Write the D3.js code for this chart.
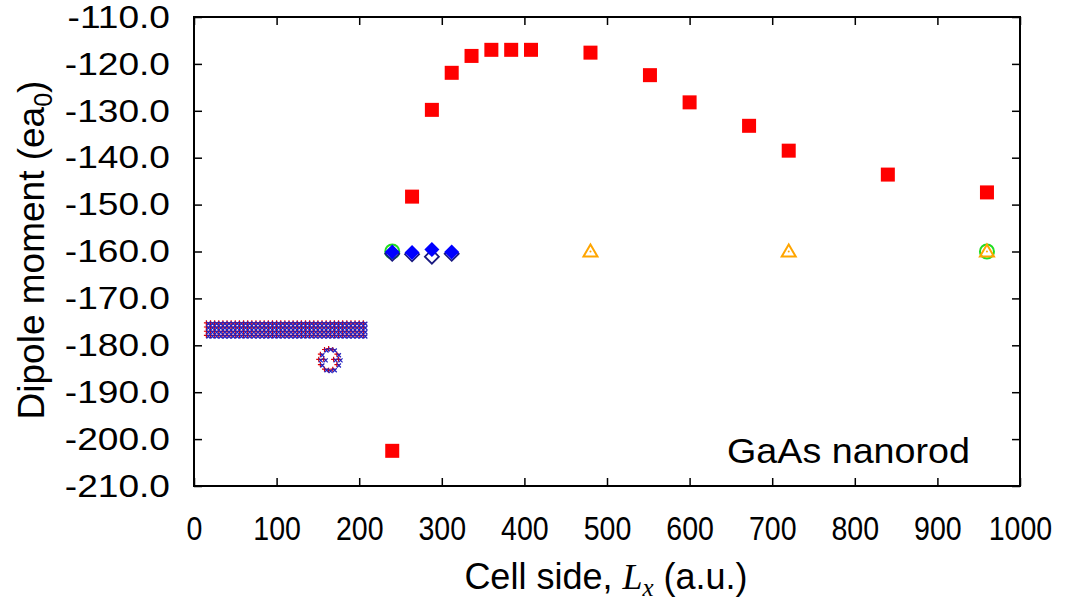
<!DOCTYPE html>
<html>
<head>
<meta charset="utf-8">
<script src="https://cdn.jsdelivr.net/npm/d3@7"></script>
<style>
  body { margin: 0; background: #fff; }
  text { font-family: "Liberation Sans", Arial, sans-serif; }
</style>
</head>
<body>
<div id="chart-container"></div>
<script>
// Red squares: dipole moment vs cell side
var squareX = [240, 264, 288, 312, 336, 360, 384, 408, 480, 552, 600, 672, 720, 840, 960];
var squareY = [-202.5, -148.3, -129.8, -121.9, -118.3, -117.0, -117.0, -117.0, -117.6, -122.4, -128.2, -133.2, -138.5, -143.6, -147.4];

// Filled blue diamonds and open navy diamonds
var diamondX = [240, 264, 288, 312];
var diamondY = [-160.1, -160.2, -159.6, -160.1];
var openDiamondX = [240, 264, 288, 312];
var openDiamondY = [-160.5, -160.6, -161.1, -160.5];

// Open green circles and open orange triangles
var circleX = [240, 960];
var circleY = [-160.0, -160.0];
var triangleX = [480, 720, 960];
var triangleY = [-160.0, -160.0, -160.0];

// Dense band of small markers for small cells
var bandX = [15, 20, 25, 30, 35, 40, 45, 50, 55, 60, 65, 70, 75, 80, 85, 90, 95, 100, 105, 110,
             115, 120, 125, 130, 135, 140, 145, 150, 155, 160, 165, 170, 175, 180, 185, 190, 195, 200, 205];
var bandY = [-175.2, -176.1, -177.0, -177.9];

// Small ring of markers near Lx = 163
var ringX = [158, 163, 168, 153, 173, 151, 157, 169, 175, 153, 173, 158, 163, 168];
var ringY = [-180.9, -180.7, -180.9, -181.9, -181.9, -183.0, -183.0, -183.0, -183.0, -184.1, -184.1, -185.1, -185.3, -185.1];

var xTicks = [0, 100, 200, 300, 400, 500, 600, 700, 800, 900, 1000];
var yTicks = [-110, -120, -130, -140, -150, -160, -170, -180, -190, -200, -210];

var width = 1076, height = 601;
var margin = { left: 194, top: 17, right: 56, bottom: 115 };
var plotW = width - margin.left - margin.right;
var plotH = height - margin.top - margin.bottom;

function zip(xs, ys) {
    var out = [];
    for (var i = 0; i < xs.length; i++) out.push([xs[i], ys[i]]);
    return out;
}

function drawChart() {
    var svg = d3.select("#chart-container").append("svg")
        .attr("width", width)
        .attr("height", height);

    var x = d3.scaleLinear().domain([0, 1000]).range([0, plotW]);
    var y = d3.scaleLinear().domain([-210, -110]).range([plotH, 0]);

    var g = svg.append("g").attr("transform", "translate(" + margin.left + "," + margin.top + ")");

    // axes with inward ticks on all four sides
    var fmt = function(d) { return d.toFixed(1); };
    var xAxis = g.append("g").attr("transform", "translate(0," + plotH + ")")
        .call(d3.axisBottom(x).tickValues(xTicks).tickSize(-8).tickPadding(30).tickFormat(d3.format("d")));
    var yAxis = g.append("g")
        .call(d3.axisLeft(y).tickValues(yTicks).tickSize(-8).tickPadding(24).tickFormat(fmt));
    g.append("g")
        .call(d3.axisTop(x).tickValues(xTicks).tickSize(-8).tickFormat(""));
    g.append("g").attr("transform", "translate(" + plotW + ",0)")
        .call(d3.axisRight(y).tickValues(yTicks).tickSize(-8).tickFormat(""));

    g.selectAll(".domain").remove();
    g.selectAll(".tick line").attr("stroke", "#000").attr("stroke-width", 1.5);
    // x tick labels are tall and narrow in the original
    xAxis.selectAll("text").attr("fill", "#000").style("font-size", "34px")
        .attr("transform", "scale(0.84,1)");
    // y tick labels are a bit wide
    yAxis.selectAll("text").attr("fill", "#000").style("font-size", "32px")
        .attr("x", -24 / 1.16).attr("transform", "scale(1.16,1)");

    g.append("rect")
        .attr("width", plotW).attr("height", plotH)
        .attr("fill", "none").attr("stroke", "#000").attr("stroke-width", 2);

    var plot = g.append("g");

    // dense band: red plus and blue cross markers
    var band = [];
    bandY.forEach(function(yy) {
        bandX.forEach(function(xx) { band.push([xx, yy]); });
    });
    var ring = zip(ringX, ringY);
    var small = band.concat(ring);

    plot.selectAll(".plus").data(small).enter().append("path")
        .attr("class", "plus")
        .attr("transform", function(d) { return "translate(" + x(d[0]) + "," + y(d[1]) + ")"; })
        .attr("d", "M-2.5,0H2.5M0,-2.5V2.5")
        .attr("stroke", "#e00000").attr("stroke-width", 1.2).attr("fill", "none");
    plot.selectAll(".cross").data(small).enter().append("path")
        .attr("class", "cross")
        .attr("transform", function(d) { return "translate(" + (x(d[0]) + 2) + "," + (y(d[1]) + 1) + ")"; })
        .attr("d", "M-2,-2L2,2M-2,2L2,-2")
        .attr("stroke", "#2020c0").attr("stroke-width", 1.2).attr("fill", "none");

    // green circles
    plot.selectAll(".circ").data(zip(circleX, circleY)).enter().append("circle")
        .attr("cx", function(d) { return x(d[0]); })
        .attr("cy", function(d) { return y(d[1]); })
        .attr("r", 7)
        .attr("fill", "none").attr("stroke", "#22dd22").attr("stroke-width", 2);

    // open navy diamonds
    plot.selectAll(".odia").data(zip(openDiamondX, openDiamondY)).enter().append("path")
        .attr("transform", function(d) { return "translate(" + x(d[0]) + "," + y(d[1]) + ")"; })
        .attr("d", "M0,-7L7,0L0,7L-7,0Z")
        .attr("fill", "none").attr("stroke", "#1a1a80").attr("stroke-width", 1.8);

    // filled blue diamonds
    plot.selectAll(".fdia").data(zip(diamondX, diamondY)).enter().append("path")
        .attr("transform", function(d) { return "translate(" + x(d[0]) + "," + y(d[1]) + ")"; })
        .attr("d", "M0,-7.5L7.5,0L0,7.5L-7.5,0Z")
        .attr("fill", "#0000ff");

    // orange triangles
    var tri = plot.selectAll(".tri").data(zip(triangleX, triangleY)).enter().append("g")
        .attr("transform", function(d) { return "translate(" + x(d[0]) + "," + y(d[1]) + ")"; });
    tri.append("path")
        .attr("d", "M0,-7L7,5L-7,5Z")
        .attr("fill", "none").attr("stroke", "#ffa500").attr("stroke-width", 2);
    tri.append("circle").attr("r", 1).attr("fill", "#ffa500");

    // red squares
    plot.selectAll(".sq").data(zip(squareX, squareY)).enter().append("rect")
        .attr("x", function(d) { return x(d[0]) - 7; })
        .attr("y", function(d) { return y(d[1]) - 7; })
        .attr("width", 14).attr("height", 14)
        .attr("fill", "#ff0000");

    // labels
    g.append("text")
        .attr("x", 533).attr("y", y(-202.6) + 12)
        .style("font-size", "35px")
        .attr("textLength", 243)
        .attr("lengthAdjust", "spacingAndGlyphs")
        .text("GaAs nanorod");

    var yl = svg.append("text")
        .attr("transform", "translate(44,250) rotate(-90)")
        .attr("text-anchor", "middle")
        .style("font-size", "37px");
    yl.append("tspan").text("Dipole moment (ea");
    yl.append("tspan").attr("dy", 8).style("font-size", "25px").text("0");
    yl.append("tspan").attr("dy", -8).text(")");

    var xl = svg.append("text")
        .attr("x", 606).attr("y", 589)
        .attr("text-anchor", "middle")
        .style("font-size", "36px");
    xl.append("tspan").text("Cell side, ");
    xl.append("tspan").style("font-family", "'Liberation Serif', serif").style("font-style", "italic").text("L");
    xl.append("tspan").attr("dy", 7).style("font-family", "'Liberation Serif', serif")
        .style("font-style", "italic").style("font-size", "25px").text("x");
    xl.append("tspan").attr("dy", -7).text(" (a.u.)");
}

document.addEventListener("DOMContentLoaded", function() {
    drawChart();
});
</script>
</body>
</html>
